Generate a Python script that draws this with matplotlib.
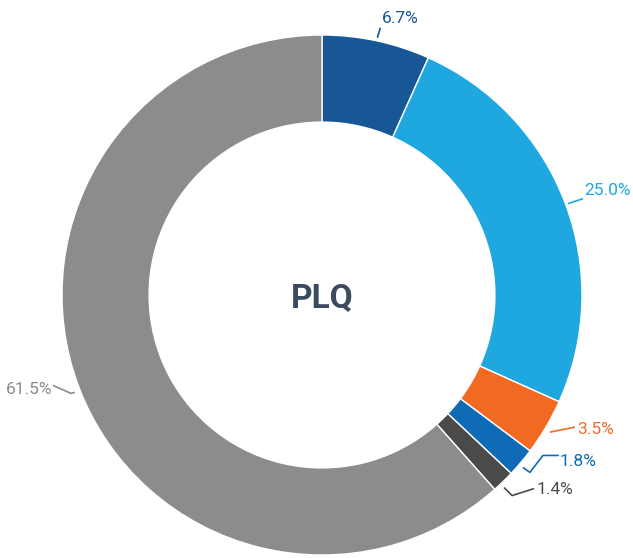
import numpy as np
import matplotlib
matplotlib.use("Agg")
import matplotlib.pyplot as plt

plt.rcParams["font.family"] = ["Roboto", "DejaVu Sans"]

# data
shares = [6.7, 25.0, 3.5, 1.8, 1.4, 61.5]
labels = ["6.7%", "25.0%", "3.5%", "1.8%", "1.4%", "61.5%"]
colors = ["#175796", "#1fa7df", "#f26a22", "#0f6bb5", "#4a4a4a", "#8c8c8c"]
center_text = "PLQ"

# leader-line layout, pixel offsets from the wedge's outer midpoint
leader_pts = [
    [(1, -3), (4, -13)],
    [(3, 1), (18, -4)],
    [(4, 5), (9, 4), (29, 0)],
    [(2, 5), (9, 10), (22, -7), (38, -7)],
    [(1, 6), (9, 14), (31, 7)],
    [(-4, 5), (-8, 6), (-26, -2)],
]
text_off = [(5, -22), (19, -12), (31, 2), (39, -1), (33, 8), (-27, 2)]

W, H = 633, 558
cx, cy, R = 322, 295, 260  # pixels

fig = plt.figure(figsize=(W / 100, H / 100), dpi=100)
ax = fig.add_axes([0, 0, 1, 1])

wedges, _ = ax.pie(
    shares, colors=colors, startangle=90, counterclock=False, radius=1.0,
    wedgeprops=dict(width=0.335, edgecolor="white", linewidth=1.0),
)
ax.set_aspect("auto")
ax.set_xlim(-cx / R, (W - cx) / R)
ax.set_ylim((cy - H) / R, cy / R)
ax.axis("off")

total = sum(shares)
cum = 0.0
for i, s in enumerate(shares):
    ang = np.deg2rad(90 - (cum + s / 2) / total * 360)
    cum += s
    x0, y0 = np.cos(ang), np.sin(ang)
    px = [x0 + dx / R for dx, dy in leader_pts[i]]
    py = [y0 - dy / R for dx, dy in leader_pts[i]]
    ax.plot(px, py, color=colors[i], lw=1.2, solid_capstyle="butt")
    tx = x0 + text_off[i][0] / R
    ty = y0 - text_off[i][1] / R
    ha = "right" if text_off[i][0] < 0 else "left"
    ax.text(tx, ty, labels[i], color=colors[i], fontsize=12.5, ha=ha, va="center")

ax.text(0, -0.01, center_text, color="#3a4a5f", fontsize=24, fontweight="bold",
        ha="center", va="center")

fig.savefig("out.png", dpi=100)
